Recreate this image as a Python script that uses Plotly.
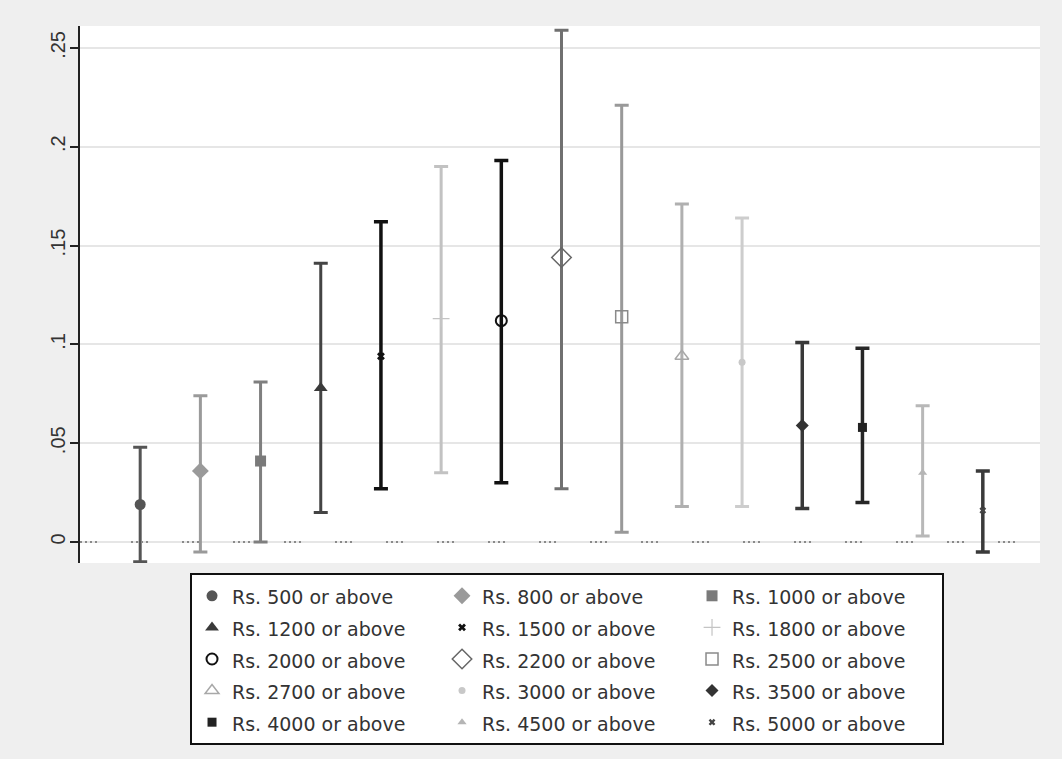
import plotly.graph_objects as go

labels = ["Rs. 500 or above", "Rs. 800 or above", "Rs. 1000 or above",
          "Rs. 1200 or above", "Rs. 1500 or above", "Rs. 1800 or above",
          "Rs. 2000 or above", "Rs. 2200 or above", "Rs. 2500 or above",
          "Rs. 2700 or above", "Rs. 3000 or above", "Rs. 3500 or above",
          "Rs. 4000 or above", "Rs. 4500 or above", "Rs. 5000 or above"]
positions = list(range(1, 16))
estimate = [0.019, 0.036, 0.041, 0.078, 0.094, 0.113, 0.112, 0.144, 0.114,
            0.094, 0.091, 0.059, 0.058, 0.035, 0.016]
lower = [-0.010, -0.005, 0.000, 0.015, 0.027, 0.035, 0.030, 0.027, 0.005,
         0.018, 0.018, 0.017, 0.020, 0.003, -0.005]
upper = [0.048, 0.074, 0.081, 0.141, 0.162, 0.190, 0.193, 0.259, 0.221,
         0.171, 0.164, 0.101, 0.098, 0.069, 0.036]
y_ticks = [0, 0.05, 0.1, 0.15, 0.2, 0.25]
y_tick_text = ["0", ".05", ".1", ".15", ".2", ".25"]

styles = [
    dict(symbol="circle", size=11, color="#555555", bar="#555555", lw=0, th=3),
    dict(symbol="diamond", size=13, color="#9a9a9a", bar="#9a9a9a", lw=0, th=3),
    dict(symbol="square", size=11, color="#7a7a7a", bar="#7f7f7f", lw=0, th=3),
    dict(symbol="triangle-up", size=12, color="#3a3a3a", bar="#444444", lw=0, th=3),
    dict(symbol="x", size=7, color="#111111", bar="#111111", lw=0, th=3.5),
    dict(symbol="cross-thin", size=12, color="#c4c4c4", bar="#c2c2c2", lw=1.2, th=3),
    dict(symbol="circle-open", size=11, color="#111111", bar="#111111", lw=2, th=3.5),
    dict(symbol="diamond-open", size=15, color="#666666", bar="#707070", lw=1.5, th=3),
    dict(symbol="square-open", size=12, color="#8a8a8a", bar="#999999", lw=1.5, th=3),
    dict(symbol="triangle-up-open", size=12, color="#a8a8a8", bar="#b0b0b0", lw=1.5, th=3),
    dict(symbol="circle", size=7, color="#c8c8c8", bar="#cdcdcd", lw=0, th=3),
    dict(symbol="diamond", size=10, color="#333333", bar="#383838", lw=0, th=3.5),
    dict(symbol="square", size=9, color="#222222", bar="#262626", lw=0, th=3.5),
    dict(symbol="triangle-up", size=8, color="#b5b5b5", bar="#b8b8b8", lw=0, th=3),
    dict(symbol="x", size=6, color="#444444", bar="#3a3a3a", lw=0, th=3.5),
]

fig = go.Figure()
for i, lab in enumerate(labels):
    st = styles[i]
    fig.add_trace(go.Scatter(
        x=[positions[i]], y=[estimate[i]],
        name='<span style="font-size:19px">' + lab + '</span>', mode="markers",
        marker=dict(symbol=st["symbol"], size=st["size"], color=st["color"],
                    line=dict(width=st["lw"], color=st["color"])),
        error_y=dict(type="data", symmetric=False,
                     array=[upper[i] - estimate[i]],
                     arrayminus=[estimate[i] - lower[i]],
                     color=st["bar"], thickness=st["th"], width=7),
    ))

# dotted zero reference line
fig.add_shape(type="line", xref="paper", x0=0, x1=1, yref="y", y0=0, y1=0,
              line=dict(color="#8a8a8a", width=2,
                        dash="2px,3px,2px,3px,2px,3px,2px,34px"),
              layer="above")

fig.update_layout(
    width=1062, height=759,
    margin=dict(l=80, r=22, t=26, b=196),
    paper_bgcolor="#efefef", plot_bgcolor="#ffffff",
    font=dict(family="Liberation Sans, Arial, sans-serif", color="#333333"),
    showlegend=True,
    legend=dict(orientation="h", x=0.1146, xanchor="left", y=-0.0186, yanchor="top",
                bgcolor="#ffffff", bordercolor="#111111", borderwidth=2,
                font=dict(family="DejaVu Sans, sans-serif", size=22, color="#333333"),
                entrywidth=205, entrywidthmode="pixels",
                itemclick=False, traceorder="normal"),
)
fig.update_xaxes(range=[0, 15.95], showgrid=False, zeroline=False, showticklabels=False,
                 ticks="", showline=False)
fig.update_yaxes(range=[-0.0106, 0.2611], tickmode="array", tickvals=y_ticks,
                 ticktext=y_tick_text, tickangle=-90, ticks="outside", ticklen=8,
                 tickwidth=1.5, tickcolor="#222222", showline=True, linecolor="#222222",
                 linewidth=1.5, showgrid=True, gridcolor="#e6e6e6", gridwidth=1.5,
                 zeroline=False, ticklabelstandoff=-3,
                 tickfont=dict(size=20, color="#333333",
                               family="Liberation Sans, Arial, sans-serif"))

fig.write_html("out.html", config={"displayModeBar": False},
               post_script="document.body.style.margin='0';")
